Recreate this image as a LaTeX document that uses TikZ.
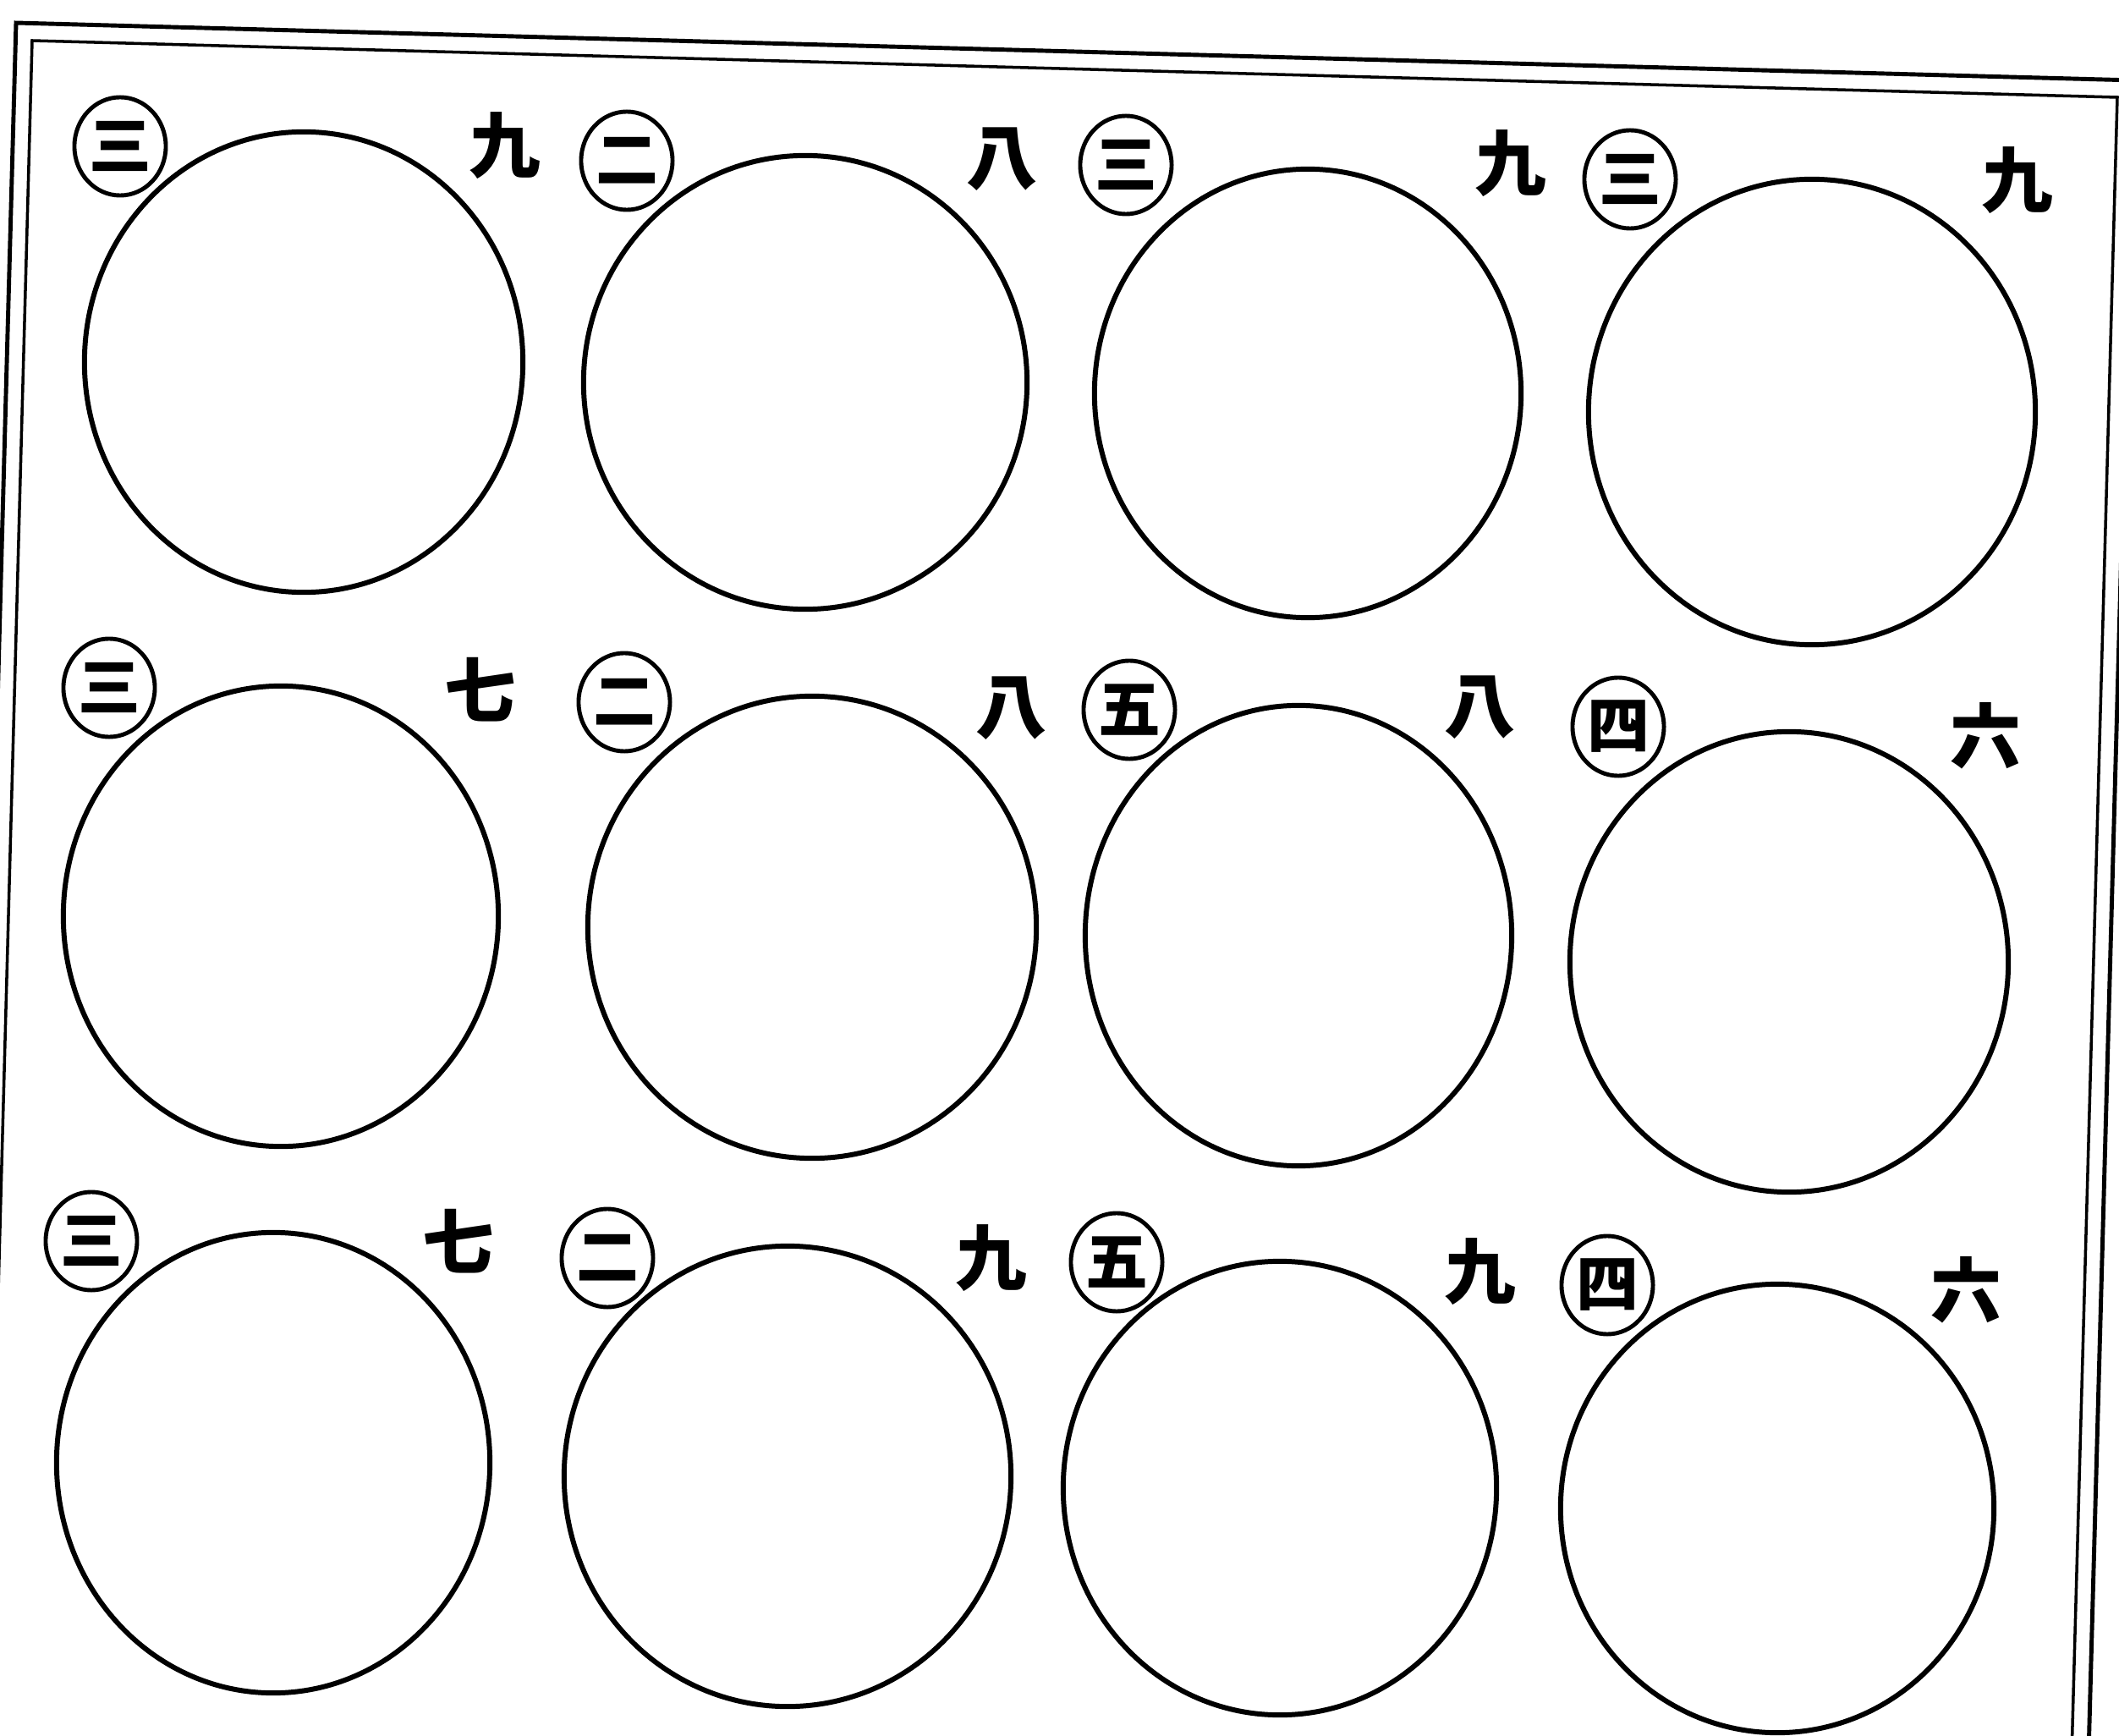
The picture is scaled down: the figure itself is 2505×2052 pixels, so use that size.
\documentclass[tikz,border=0pt]{standalone}
\usepackage{fontspec}
\newfontfamily\cjk{Noto Sans CJK JP}
\usetikzlibrary{shapes.geometric}
\tikzset{
  bigc/.style={draw, ellipse, line width=1.7pt, inner sep=0pt},
  numc/.style={draw, ellipse, line width=1.4pt, inner sep=0pt, minimum width=1.08cm, minimum height=1.16cm, font=\cjk\bfseries\fontsize{21}{21}\selectfont},
  rlab/.style={inner sep=0pt, font=\cjk\bfseries\fontsize{24}{24}\selectfont},
  outerline/.style={line width=1.4pt},
  innerline/.style={line width=1.0pt}
}
\begin{document}
\begin{tikzpicture}[x=0.01cm,y=-0.01cm]
\useasboundingbox (0,0) rectangle (2505,2052);
\fill[white] (0,0) rectangle (2505,2052);
\clip (0,0) rectangle (2505,2052);
% frame (page slightly rotated)
\coordinate (oTL) at (19,27);
\coordinate (oTR) at (2523,95);
\coordinate (oBR) at (2463,2294);
\coordinate (oBL) at (-41,2226);
\coordinate (iTL) at (38,48);
\coordinate (iTR) at (2503,115);
\coordinate (iBR) at (2443,2294);
\coordinate (iBL) at (-21,2227);
\draw[outerline] (oTL) -- (oTR) -- (oBR) -- (oBL) -- cycle;
\draw[innerline] (iTL) -- (iTR) -- (iBR) -- (iBL) -- cycle;
% big circles
\foreach \n/\x/\y/\w/\h in {
  11/359/428/5.18/5.44, 12/952/452/5.24/5.36, 13/1546/465/5.04/5.30, 14/2142/487/5.28/5.50,
  21/332/1083/5.14/5.44, 22/960/1096/5.30/5.46, 23/1535/1106/5.04/5.44, 24/2115/1137/5.18/5.44,
  31/323/1729/5.12/5.44, 32/931/1745/5.28/5.44, 33/1513/1759/5.12/5.36, 34/2101/1783/5.12/5.30}
  \node[bigc, minimum width=\w cm, minimum height=\h cm] (c\n) at (\x,\y) {};
% circled numerals
\foreach \n/\x/\y/\t in {
  11/142/173/三, 12/741/190/二, 13/1331/195/三, 14/1927/212/三,
  21/129/813/三, 22/738/830/二, 23/1335/839/五, 24/1913/859/四,
  31/108/1467/三, 32/718/1487/二, 33/1320/1492/五, 34/1900/1519/四}
  \node[numc] (n\n) at (\x,\y) {\t};
% right-hand characters
\foreach \n/\x/\y/\t in {
  11/597/172/九, 12/1185/188/八, 13/1786/193/九, 14/2385/213/九,
  21/568/815/七, 22/1196/837/八, 23/1750/836/八, 24/2348/870/六,
  31/542/1467/七, 32/1172/1487/九, 33/1750/1503/九, 34/2325/1525/六}
  \node[rlab] (r\n) at (\x,\y) {\t};
\end{tikzpicture}
\end{document}
